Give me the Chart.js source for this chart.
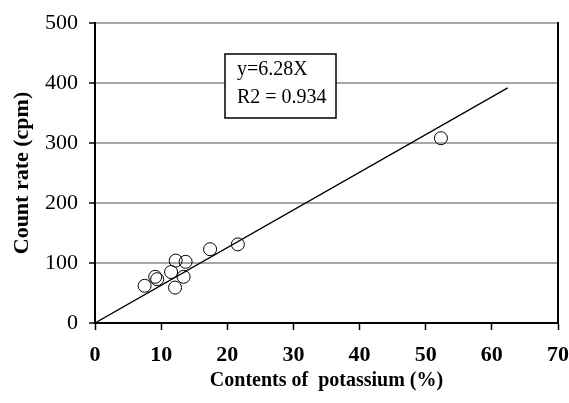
<!DOCTYPE html>
<html>
<head>
<meta charset="utf-8">
<script src="https://cdn.jsdelivr.net/npm/chart.js"></script>
<style>
  html, body { margin: 0; padding: 0; background: #fff; }
  #chart { display: block; }
</style>
</head>
<body>
<canvas id="chart" width="569" height="403"></canvas>
<script>
// 🔹 DATA
const potassium = [7.5, 9.1, 9.4, 11.5, 12.2, 13.7, 13.4, 12.1, 17.4, 21.6, 52.3];
const countRate = [62, 77, 73, 85, 104, 102, 77, 59, 123, 131, 308];

// fitted line y = slope * x, drawn from 0 to fitEnd
const slope = 6.28;
const fitEnd = 62.4;
const fitLabel = ["y=6.28X", "R2 = 0.934"];

const xTicks = [0, 10, 20, 30, 40, 50, 60, 70];
const yTicks = [0, 100, 200, 300, 400, 500];

const serif = "'Liberation Serif', 'Times New Roman', serif";

const points = potassium.map((x, i) => ({ x: x, y: countRate[i] }));
const fitLine = [{ x: 0, y: 0 }, { x: fitEnd, y: slope * fitEnd }];

// 🔹 TEXT BOX (equation + R2)
const eqBox = {
  id: 'eqBox',
  afterDraw(chart) {
    const ctx = chart.ctx;
    const a = chart.chartArea;
    const bx = a.left + 130, by = a.top + 31, bw = 111, bh = 64;
    ctx.save();
    ctx.fillStyle = '#fff';
    ctx.fillRect(bx, by, bw, bh);
    ctx.strokeStyle = '#000';
    ctx.lineWidth = 1.5;
    ctx.strokeRect(bx, by, bw, bh);
    ctx.fillStyle = '#000';
    ctx.font = "20px " + serif;
    ctx.textBaseline = 'middle';
    ctx.fillText(fitLabel[0], bx + 12, by + 16);
    ctx.fillText(fitLabel[1], bx + 12, by + 44);
    ctx.restore();
  }
};

new Chart(document.getElementById('chart'), {
  type: 'scatter',
  data: {
    datasets: [
      {
        data: points,
        pointStyle: 'circle',
        pointRadius: 6.5,
        borderColor: '#000',
        borderWidth: 1,
        backgroundColor: 'rgba(0,0,0,0)'
      },
      {
        type: 'line',
        data: fitLine,
        borderColor: '#000',
        borderWidth: 1.3,
        pointRadius: 0,
        fill: false
      }
    ]
  },
  options: {
    responsive: false,
    animation: false,
    devicePixelRatio: 1,
    layout: { padding: { top: 23, right: 11, bottom: 0, left: 0 } },
    plugins: { legend: { display: false }, tooltip: { enabled: false } },
    scales: {
      x: {
        type: 'linear',
        min: 0,
        max: 70,
        afterBuildTicks: s => { s.ticks = xTicks.map(v => ({ value: v })); },
        afterFit: s => { s.height = 80; s.paddingLeft = 0; s.paddingRight = 0; },
        ticks: {
          color: '#000',
          padding: 12,
          font: { family: serif, size: 22, weight: 'bold' }
        },
        grid: { drawOnChartArea: false, tickColor: '#000', tickLength: 7, tickWidth: 1.5 },
        border: { color: '#000', width: 2 },
        title: {
          display: true,
          text: 'Contents of  potassium (%)',
          color: '#000',
          padding: { top: 0, bottom: 10 },
          font: { family: serif, size: 20, weight: 'bold' }
        }
      },
      y: {
        min: 0,
        max: 500,
        afterBuildTicks: s => { s.ticks = yTicks.map(v => ({ value: v })); },
        afterFit: s => { s.width = 95; s.paddingTop = 0; s.paddingBottom = 0; },
        ticks: {
          color: '#000',
          padding: 11,
          font: { family: serif, size: 22 }
        },
        grid: { color: '#a6a6a6', lineWidth: 2, tickColor: '#000', tickLength: 6, tickWidth: 1.5 },
        border: { color: '#000', width: 2 },
        title: {
          display: true,
          text: 'Count rate (cpm)',
          color: '#000',
          padding: { top: 9, bottom: 0 },
          font: { family: serif, size: 22, weight: 'bold' }
        }
      },
      y2: {
        position: 'right',
        min: 0,
        max: 500,
        afterFit: s => { s.width = 0; s.paddingTop = 0; s.paddingBottom = 0; },
        ticks: { display: false },
        grid: { display: false },
        border: { color: '#000', width: 2 }
      }
    }
  },
  plugins: [eqBox]
});
</script>
</body>
</html>
